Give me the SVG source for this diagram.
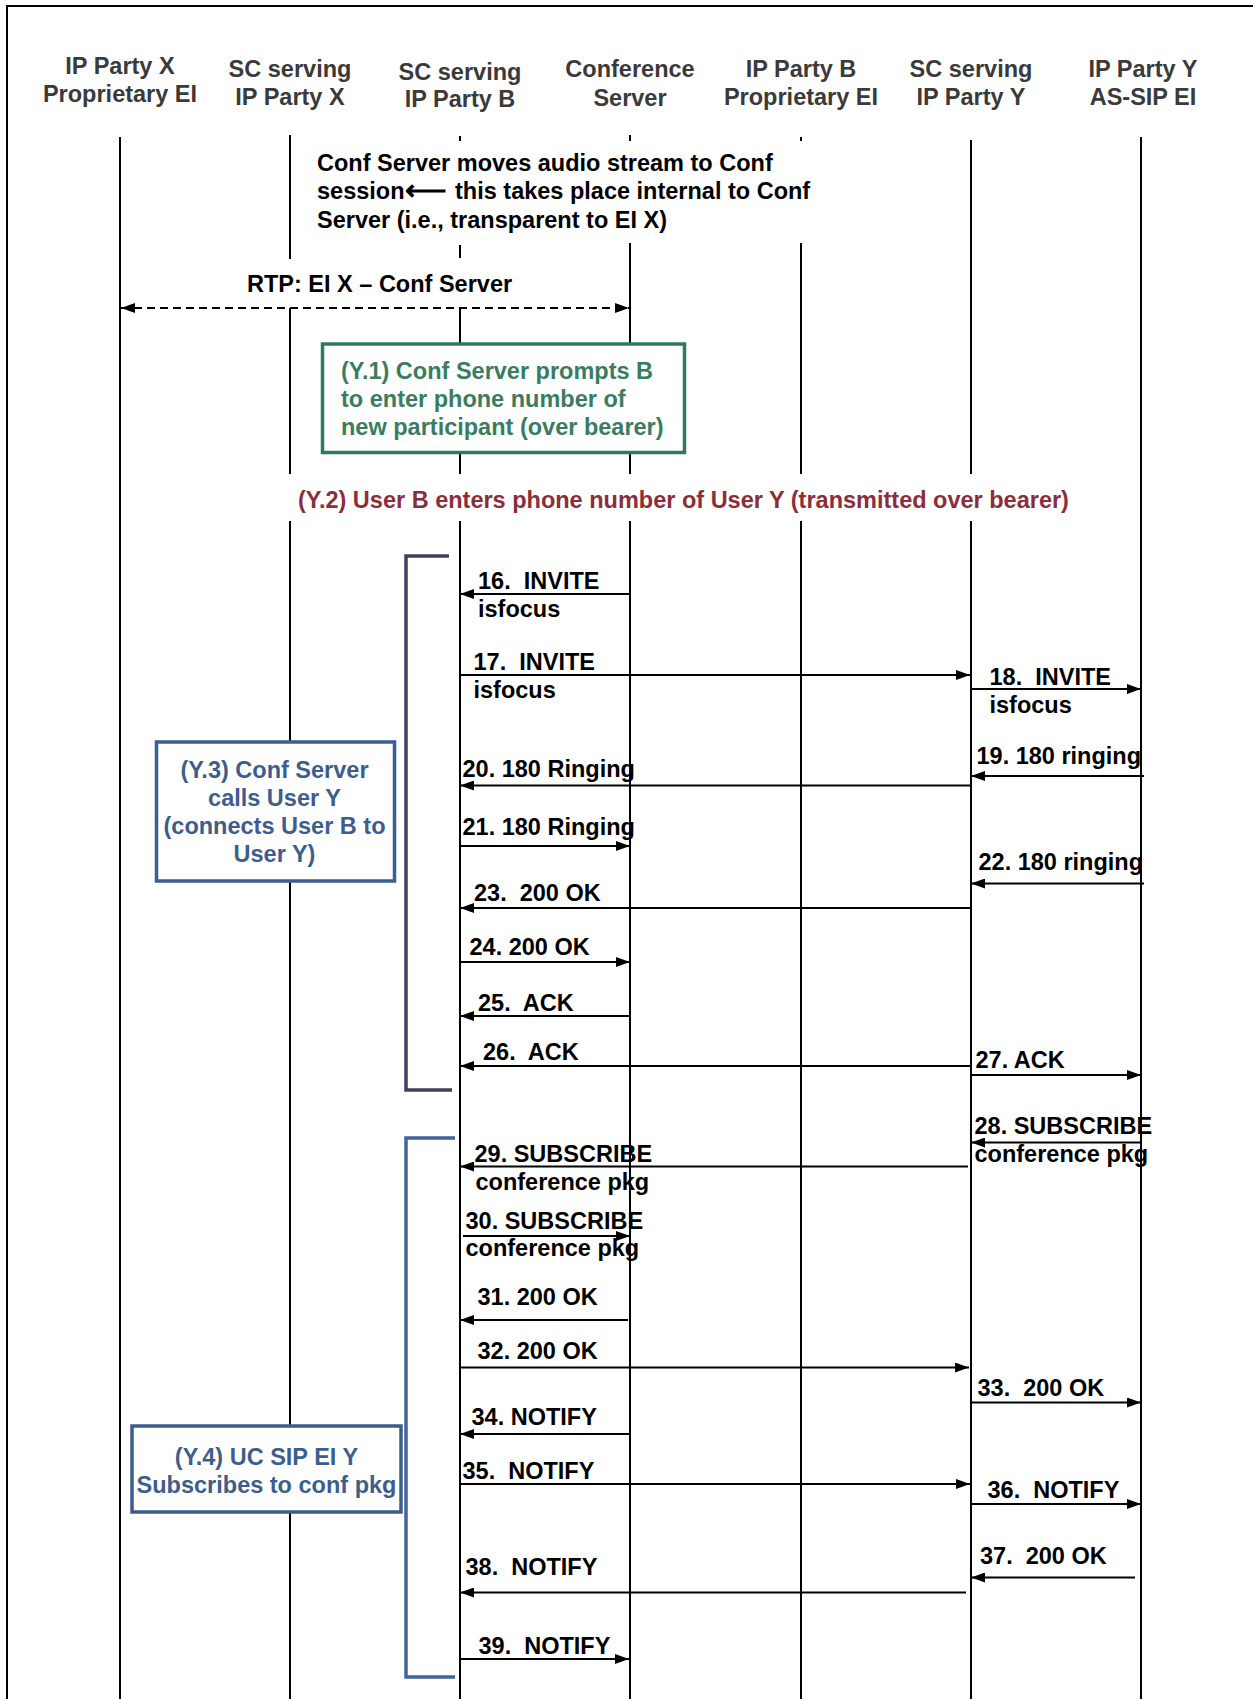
<svg xmlns="http://www.w3.org/2000/svg" width="1253" height="1699" viewBox="0 0 1253 1699">
<defs>
<marker id="ah" markerUnits="userSpaceOnUse" markerWidth="14" markerHeight="10" refX="14" refY="5" orient="auto">
<path d="M0,0 L14,5 L0,10 z" fill="#000"/>
</marker>
<marker id="ahr" markerUnits="userSpaceOnUse" markerWidth="14" markerHeight="10" refX="14" refY="5" orient="auto-start-reverse">
<path d="M0,0 L14,5 L0,10 z" fill="#000"/>
</marker>
</defs>
<style>
text{font-family:"Liberation Sans",Arial,sans-serif;font-weight:bold;font-size:23.5px}
.hd{fill:#3a3a3a;text-anchor:middle}
.ll{stroke:#000;stroke-width:2;fill:none}
.msg{stroke:#000;stroke-width:2;fill:none;marker-end:url(#ah)}
.m{fill:#000;white-space:pre}
.g{fill:#3a7c5f}
.r{fill:#8a2e3b}
.b{fill:#3d5e8c;text-anchor:middle}
.box{fill:#fff;stroke-width:3.5}
</style>
<rect width="1253" height="1699" fill="#fff"/>
<path d="M7,1700 V6 H1254" fill="none" stroke="#000" stroke-width="2"/>

<g id="lifeline-ipx">
<text class="hd"><tspan x="120" y="74">IP Party X</tspan><tspan x="120" y="102">Proprietary EI</tspan></text>
<path class="ll" d="M120,137 V1699"/>
</g>
<g id="lifeline-scx">
<text class="hd"><tspan x="290" y="77">SC serving</tspan><tspan x="290" y="105">IP Party X</tspan></text>
<path class="ll" d="M290,135 V259 M290,308 V474 M290,521 V1699"/>
</g>
<g id="lifeline-scb">
<text class="hd"><tspan x="460" y="80">SC serving</tspan><tspan x="460" y="107">IP Party B</tspan></text>
<path class="ll" d="M460,136 V141 M460,245 V258 M460,308 V474 M460,521 V1699"/>
</g>
<g id="lifeline-conf">
<text class="hd"><tspan x="630" y="77">Conference</tspan><tspan x="630" y="106">Server</tspan></text>
<path class="ll" d="M630,135 V141 M630,243 V474 M630,521 V1699"/>
</g>
<g id="lifeline-ipb">
<text class="hd"><tspan x="801" y="77">IP Party B</tspan><tspan x="801" y="105">Proprietary EI</tspan></text>
<path class="ll" d="M801,137 V141 M801,243 V474 M801,521 V1699"/>
</g>
<g id="lifeline-scy">
<text class="hd"><tspan x="971" y="77">SC serving</tspan><tspan x="971" y="105">IP Party Y</tspan></text>
<path class="ll" d="M971,140 V474 M971,521 V1699"/>
</g>
<g id="lifeline-ipy">
<text class="hd"><tspan x="1143" y="76.5">IP Party Y</tspan><tspan x="1143" y="105">AS-SIP EI</tspan></text>
<path class="ll" d="M1141,137 V1699"/>
</g>

<g id="note-conf-moves">
<text class="m"><tspan x="317" y="170.5">Conf Server moves audio stream to Conf</tspan><tspan x="317" y="199">session</tspan><tspan x="405" y="200" style="font-size:29px">⟵</tspan><tspan x="455" y="199">this takes place internal to Conf</tspan><tspan x="317" y="227.5">Server (i.e., transparent to EI X)</tspan></text>
</g>

<g id="note-y1">
<rect class="box" x="322.5" y="344" width="362" height="108.5" stroke="#2f7a5c"/>
<text class="g"><tspan x="341" y="378.5">(Y.1) Conf Server prompts B</tspan><tspan x="341" y="406.5">to enter phone number of</tspan><tspan x="341" y="434.5">new participant (over bearer)</tspan></text>
</g>

<g id="note-y2">
<text class="r" x="298" y="507.5">(Y.2) User B enters phone number of User Y (transmitted over bearer)</text>
</g>

<g id="bracket-y3">
<path d="M449,556 H406 V1090 H452" fill="none" stroke="#3f405c" stroke-width="3.5"/>
</g>
<g id="bracket-y4">
<path d="M455,1138 H406 V1677 H455" fill="none" stroke="#42669a" stroke-width="3.5"/>
</g>

<g id="note-y3">
<rect class="box" x="156.5" y="742" width="238" height="139" stroke="#3b5f8e"/>
<text class="b"><tspan x="274.5" y="777.5">(Y.3) Conf Server</tspan><tspan x="274.5" y="805.5">calls User Y</tspan><tspan x="274.5" y="834">(connects User B to</tspan><tspan x="274.5" y="861.5">User Y)</tspan></text>
</g>

<g id="note-y4">
<rect class="box" x="132" y="1426" width="269" height="86" stroke="#3b5c8c"/>
<text class="b"><tspan x="266.5" y="1465">(Y.4) UC SIP EI Y</tspan><tspan x="266.5" y="1492.5">Subscribes to conf pkg</tspan></text>
</g>

<g id="connectors">
<g id="rtp">
<text class="m" x="247" y="292">RTP: EI X – Conf Server</text>
<path d="M121,308 H629" fill="none" stroke="#000" stroke-width="2" stroke-dasharray="8 5" marker-start="url(#ahr)" marker-end="url(#ahr)"/>
</g>
<g id="m16"><path class="msg" d="M630,594 H460"/><text class="m" xml:space="preserve" x="478" y="588.5">16.  INVITE</text><text class="m" x="478" y="617">isfocus</text></g>
<g id="m17"><path class="msg" d="M460,675 H970"/><text class="m" xml:space="preserve" x="473.5" y="669.5">17.  INVITE</text><text class="m" x="473.5" y="697.5">isfocus</text></g>
<g id="m18"><path class="msg" d="M971,689 H1141"/><text class="m" xml:space="preserve" x="989.5" y="685">18.  INVITE</text><text class="m" x="989.5" y="713">isfocus</text></g>
<g id="m19"><path class="msg" d="M1144,776 H971"/><text class="m" x="976.5" y="764">19. 180 ringing</text></g>
<g id="m20"><path class="msg" d="M971,785.5 H460"/><text class="m" x="462.5" y="777">20. 180 Ringing</text></g>
<g id="m21"><path class="msg" d="M460,846 H630"/><text class="m" x="462.5" y="835">21. 180 Ringing</text></g>
<g id="m22"><path class="msg" d="M1144,883.5 H971"/><text class="m" x="978.5" y="870">22. 180 ringing</text></g>
<g id="m23"><path class="msg" d="M971,908 H460"/><text class="m" xml:space="preserve" x="474" y="901">23.  200 OK</text></g>
<g id="m24"><path class="msg" d="M460,962 H630"/><text class="m" x="469.5" y="955">24. 200 OK</text></g>
<g id="m25"><path class="msg" d="M630,1016 H460"/><text class="m" xml:space="preserve" x="478" y="1010.5">25.  ACK</text></g>
<g id="m26"><path class="msg" d="M971,1066 H460"/><text class="m" xml:space="preserve" x="483" y="1059.5">26.  ACK</text></g>
<g id="m27"><path class="msg" d="M971,1075 H1141"/><text class="m" x="975.5" y="1067.5">27. ACK</text></g>
<g id="m28"><path class="msg" d="M1141,1142.5 H971"/><text class="m" x="974.5" y="1134">28. SUBSCRIBE</text><text class="m" x="974.5" y="1161.5">conference pkg</text></g>
<g id="m29"><path class="msg" d="M968,1166.5 H460"/><text class="m" x="474.5" y="1161.5">29. SUBSCRIBE</text><text class="m" x="475.5" y="1190">conference pkg</text></g>
<g id="m30"><path class="msg" d="M463,1236 H630"/><text class="m" x="465.5" y="1228.5">30. SUBSCRIBE</text><text class="m" x="465.5" y="1256">conference pkg</text></g>
<g id="m31"><path class="msg" d="M628,1320 H460"/><text class="m" x="477.5" y="1305">31. 200 OK</text></g>
<g id="m32"><path class="msg" d="M460,1367.5 H969"/><text class="m" x="477.5" y="1359">32. 200 OK</text></g>
<g id="m33"><path class="msg" d="M971,1402.5 H1141"/><text class="m" xml:space="preserve" x="977.5" y="1396">33.  200 OK</text></g>
<g id="m34"><path class="msg" d="M630,1434 H460"/><text class="m" x="471.5" y="1425">34. NOTIFY</text></g>
<g id="m35"><path class="msg" d="M460,1484 H970"/><text class="m" xml:space="preserve" x="462.5" y="1479">35.  NOTIFY</text></g>
<g id="m36"><path class="msg" d="M971,1504 H1141"/><text class="m" xml:space="preserve" x="987.5" y="1497.5">36.  NOTIFY</text></g>
<g id="m37"><path class="msg" d="M1135,1577.5 H971"/><text class="m" xml:space="preserve" x="980" y="1564">37.  200 OK</text></g>
<g id="m38"><path class="msg" d="M966,1592.5 H460"/><text class="m" xml:space="preserve" x="465.5" y="1575">38.  NOTIFY</text></g>
<g id="m39"><path class="msg" d="M460,1659 H629"/><text class="m" xml:space="preserve" x="478.5" y="1653.5">39.  NOTIFY</text></g>
</g>
</svg>
